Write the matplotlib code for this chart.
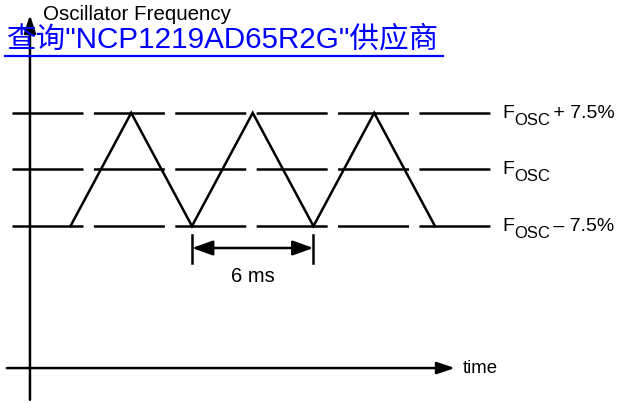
import matplotlib
matplotlib.use("Agg")
import matplotlib.pyplot as plt
from matplotlib.lines import Line2D

# ---- data ----
# spread-spectrum sweep: time (ms) vs frequency deviation (%)
sweep_t = [0, 3, 6, 9, 12, 15, 18]
sweep_f = [-7.5, 7.5, -7.5, 7.5, -7.5, 7.5, -7.5]

# reference levels (%) and their labels
level_f = [7.5, 0, -7.5]
level_suffix = [" + 7.5%", "", " \u2013 7.5%"]

# period dimension (ms)
period_start = 6
period_end = 12
period_label = "6 ms"

title = "Oscillator Frequency"
xlabel = "time"
watermark = "查询\"NCP1219AD65R2G\"供应商"

plt.rcParams["font.family"] = ["Liberation Sans", "DejaVu Sans"]
plt.rcParams["lines.scale_dashes"] = False

fig = plt.figure(figsize=(6.17, 4.03), dpi=100)
ax = fig.add_axes([0, 0, 1, 1])
ax.set_xlim(-3.48, 26.99)
ax.set_ylim(-30.93, 22.45)
ax.axis("off")

LW = 1.8
K = "black"

# dashed reference lines
for f in level_f:
    ax.plot([-2.89, 20.72], [f, f], color=K, lw=LW,
            dashes=(51.1, 7.5), solid_capstyle="butt")

# triangle sweep
ax.plot(sweep_t, sweep_f, color=K, lw=LW, solid_joinstyle="miter")

# axes arrows
ax.annotate("", xy=(-2.0, 20.46), xytext=(-2.0, -30.5),
            arrowprops=dict(arrowstyle="-|>,head_length=0.6,head_width=0.2",
                            lw=LW, color=K, mutation_scale=18,
                            shrinkA=0, shrinkB=0))
ax.annotate("", xy=(18.99, -26.3), xytext=(-3.14, -26.3),
            arrowprops=dict(arrowstyle="-|>,head_length=0.6,head_width=0.2",
                            lw=LW, color=K, mutation_scale=18,
                            shrinkA=0, shrinkB=0))
ax.text(19.38, -26.3, xlabel, fontsize=13.4, va="center", ha="left")
ax.text(-1.36, 19.8, title, fontsize=14.8, va="baseline", ha="left")

# period dimension
for t in (period_start, period_end):
    ax.plot([t, t], [-8.68, -12.38], color=K, lw=LW)
ax.annotate("", xy=(period_end, -10.4), xytext=(period_start, -10.4),
            arrowprops=dict(arrowstyle="<|-|>,head_length=0.7,head_width=0.25",
                            lw=LW, color=K, mutation_scale=18,
                            shrinkA=0, shrinkB=0))
ax.text((period_start + period_end) / 2, -14.2, period_label,
        fontsize=14.5, ha="center", va="center")

# level labels: F, subscript OSC, suffix
for f, suf in zip(level_f, level_suffix):
    ax.annotate("F", xy=(21.31, f), xytext=(0, -3.6), textcoords="offset points",
                fontsize=14, va="baseline", ha="left")
    ax.annotate("OSC", xy=(21.31, f), xytext=(9.1, -8.6), textcoords="offset points",
                fontsize=12, va="baseline", ha="left")
    if suf:
        ax.annotate(suf, xy=(21.31, f), xytext=(33, -3.6), textcoords="offset points",
                    fontsize=14, va="baseline", ha="left")

# blue link overlay
fig.text(7 / 617, 1 - 47 / 403, watermark, color="#0000ff", fontsize=21.3,
         family=["Liberation Sans", "Noto Sans CJK SC"], va="baseline", ha="left")
fig.add_artist(Line2D([5 / 617, 443 / 617], [1 - 56 / 403] * 2,
                      transform=fig.transFigure, color="#0000ff", lw=1.6))

fig.savefig("out.png", dpi=100)
